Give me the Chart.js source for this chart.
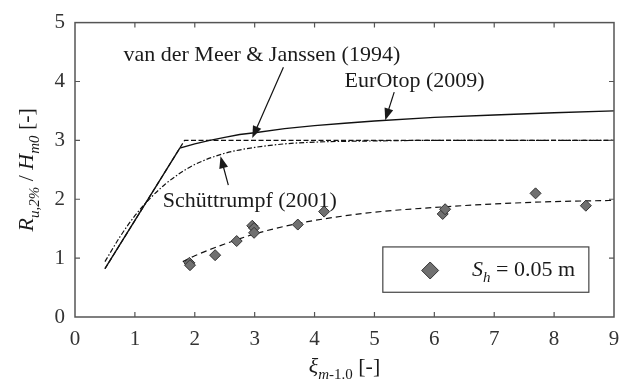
<!DOCTYPE html>
<html>
<head>
<meta charset="utf-8">
<script src="https://cdn.jsdelivr.net/npm/chart.js@4"></script>
<style>
  html, body { margin: 0; padding: 0; background: #fff; }
</style>
</head>
<body>
<canvas id="runupChart" width="631" height="385"></canvas>
<script>
// measured run-up, S_h = 0.05 m
const xiMeasured = [1.91, 1.92, 2.34, 2.70, 2.96, 2.99, 2.99, 3.72, 4.16, 6.14, 6.18, 7.69, 8.53];
const ruMeasured = [0.92, 0.88, 1.05, 1.29, 1.55, 1.51, 1.43, 1.57, 1.79, 1.75, 1.83, 2.10, 1.89];

// trend line through the measurements
const xiFit = [1.8, 2.0, 2.5, 3.0, 3.5, 4.0, 5.0, 6.0, 7.0, 8.0, 9.0];
const ruFit = [0.94, 1.04, 1.24, 1.41, 1.54, 1.64, 1.78, 1.86, 1.92, 1.96, 1.98];

// EurOtop (2009)
const xiEurOtop = [0.5, 1.75, 2.0, 2.25, 2.5, 2.75, 3.0, 3.5, 4.0, 4.5, 5.0, 6.0, 7.0, 8.0, 9.0];
const ruEurOtop = [0.82, 2.87, 2.94, 3.00, 3.05, 3.10, 3.13, 3.20, 3.25, 3.29, 3.33, 3.39, 3.43, 3.47, 3.50];

// van der Meer & Janssen (1994)
const xiVdM = [0.5, 1.83, 9.0];
const ruVdM = [0.82, 3.0, 3.0];

// Schüttrumpf (2001)
const xiSchutt = [0.5, 0.75, 1.0, 1.25, 1.5, 1.75, 2.0, 2.5, 3.0, 3.5, 4.0, 5.0, 6.0, 9.0];
const ruSchutt = [0.94, 1.36, 1.72, 2.01, 2.25, 2.44, 2.59, 2.78, 2.88, 2.94, 2.97, 2.99, 3.0, 3.0];

const xTicks = [0, 1, 2, 3, 4, 5, 6, 7, 8, 9];
const yTicks = [0, 1, 2, 3, 4, 5];

const SERIF = "'Liberation Serif', 'DejaVu Serif', serif";
const INK = '#1a1a1a';

const toPoints = (xs, ys) => xs.map((x, i) => ({ x: x, y: ys[i] }));

// draw a run of text pieces (italic / subscript) one after the other
function richText(ctx, parts, x, y, align) {
    const fontOf = p => (p.italic ? 'italic ' : '') + p.size + 'px ' + SERIF;
    let total = 0;
    parts.forEach(p => { ctx.font = fontOf(p); total += ctx.measureText(p.t).width; });
    let cx = align === 'center' ? x - total / 2 : x;
    ctx.textAlign = 'left';
    ctx.textBaseline = 'alphabetic';
    parts.forEach(p => {
        ctx.font = fontOf(p);
        ctx.fillText(p.t, cx, y + (p.dy || 0));
        cx += ctx.measureText(p.t).width;
    });
}

function arrow(ctx, x0, y0, x1, y1) {
    const ang = Math.atan2(y1 - y0, x1 - x0);
    const len = 12, half = 4.5;
    ctx.beginPath();
    ctx.moveTo(x0, y0);
    ctx.lineTo(x1 - Math.cos(ang) * len * 0.8, y1 - Math.sin(ang) * len * 0.8);
    ctx.stroke();
    ctx.beginPath();
    ctx.moveTo(x1, y1);
    ctx.lineTo(x1 - Math.cos(ang) * len - Math.sin(ang) * half, y1 - Math.sin(ang) * len + Math.cos(ang) * half);
    ctx.lineTo(x1 - Math.cos(ang) * len + Math.sin(ang) * half, y1 - Math.sin(ang) * len - Math.cos(ang) * half);
    ctx.closePath();
    ctx.fill();
}

const decor = {
    id: 'decor',
    afterDatasetsDraw(chart) {
        const { ctx, chartArea: a, scales: { x, y } } = chart;
        const px = v => x.getPixelForValue(v);
        const py = v => y.getPixelForValue(v);
        ctx.save();

        // frame with inward ticks on all sides
        ctx.strokeStyle = '#555';
        ctx.lineWidth = 1.5;
        ctx.strokeRect(a.left, a.top, a.right - a.left, a.bottom - a.top);
        ctx.lineWidth = 1.2;
        ctx.beginPath();
        xTicks.slice(1, -1).forEach(v => {
            ctx.moveTo(px(v), a.bottom); ctx.lineTo(px(v), a.bottom - 5);
            ctx.moveTo(px(v), a.top); ctx.lineTo(px(v), a.top + 5);
        });
        yTicks.slice(1, -1).forEach(v => {
            ctx.moveTo(a.left, py(v)); ctx.lineTo(a.left + 5, py(v));
            ctx.moveTo(a.right, py(v)); ctx.lineTo(a.right - 5, py(v));
        });
        ctx.stroke();

        // curve labels and arrows
        ctx.fillStyle = INK;
        ctx.strokeStyle = '#111';
        ctx.lineWidth = 1.2;
        richText(ctx, [{ t: 'van der Meer & Janssen (1994)', size: 22 }], px(3.12), py(4.35), 'center');
        richText(ctx, [{ t: 'EurOtop (2009)', size: 22 }], px(5.67), py(3.91), 'center');
        richText(ctx, [{ t: 'Schüttrumpf (2001)', size: 22 }], px(2.92), py(1.86), 'center');
        arrow(ctx, px(3.48), py(4.24), px(2.96), py(3.04));
        arrow(ctx, px(5.33), py(3.82), px(5.18), py(3.34));
        arrow(ctx, px(2.56), py(2.24), px(2.43), py(2.73));

        // legend box
        ctx.strokeStyle = '#444';
        ctx.lineWidth = 1.2;
        ctx.strokeRect(px(5.14), py(1.19), px(8.58) - px(5.14), py(0.42) - py(1.19));
        ctx.fillStyle = '#707070';
        ctx.strokeStyle = '#333';
        ctx.lineWidth = 1;
        Chart.helpers.drawPoint(ctx, { pointStyle: 'rectRot', radius: 8.5, borderWidth: 1 }, px(5.93), py(0.79));
        ctx.fillStyle = INK;
        richText(ctx, [
            { t: 'S', size: 22, italic: true },
            { t: 'h', size: 15, italic: true, dy: 6 },
            { t: ' = 0.05 m', size: 22 }
        ], px(6.63), py(0.70), 'left');

        // axis titles
        richText(ctx, [
            { t: 'ξ', size: 22, italic: true },
            { t: 'm', size: 15, italic: true, dy: 6 },
            { t: '-1.0', size: 15, dy: 6 },
            { t: ' [-]', size: 22 }
        ], (a.left + a.right) / 2, 373, 'center');

        ctx.translate(33, (a.top + a.bottom) / 2);
        ctx.rotate(-Math.PI / 2);
        richText(ctx, [
            { t: 'R', size: 22, italic: true },
            { t: 'u,2%', size: 15, italic: true, dy: 6 },
            { t: ' / ', size: 22 },
            { t: 'H', size: 22, italic: true },
            { t: 'm0', size: 15, italic: true, dy: 6 },
            { t: ' [-]', size: 22 }
        ], 0, 0, 'center');

        ctx.restore();
    }
};

const ctx = document.getElementById('runupChart').getContext('2d');

const chart = new Chart(ctx, {
    type: 'scatter',
    data: {
        datasets: [
            {
                label: 'S_h = 0.05 m',
                data: toPoints(xiMeasured, ruMeasured),
                pointStyle: 'rectRot',
                pointRadius: 5.5,
                backgroundColor: '#707070',
                borderColor: '#333',
                borderWidth: 1,
                order: 0
            },
            {
                label: 'trend',
                data: toPoints(xiFit, ruFit),
                showLine: true,
                pointRadius: 0,
                borderColor: '#111',
                borderWidth: 1.2,
                borderDash: [6, 4],
                cubicInterpolationMode: 'monotone',
                order: 1
            },
            {
                label: 'EurOtop (2009)',
                data: toPoints(xiEurOtop, ruEurOtop),
                showLine: true,
                pointRadius: 0,
                borderColor: '#111',
                borderWidth: 1.4,
                tension: 0,
                order: 2
            },
            {
                label: 'van der Meer & Janssen (1994)',
                data: toPoints(xiVdM, ruVdM),
                showLine: true,
                pointRadius: 0,
                borderColor: '#111',
                borderWidth: 1.2,
                borderDash: [5, 2.5],
                order: 3
            },
            {
                label: 'Schüttrumpf (2001)',
                data: toPoints(xiSchutt, ruSchutt),
                showLine: true,
                pointRadius: 0,
                borderColor: '#111',
                borderWidth: 1.2,
                borderDash: [5, 2, 1.5, 2],
                cubicInterpolationMode: 'monotone',
                order: 4
            }
        ]
    },
    options: {
        responsive: false,
        animation: false,
        devicePixelRatio: 1,
        layout: { padding: { top: 18, right: 17, left: 0, bottom: 0 } },
        plugins: {
            legend: { display: false },
            tooltip: { enabled: false }
        },
        scales: {
            x: {
                type: 'linear',
                min: 0,
                max: 9,
                afterFit: scale => { scale.height = 68; },
                afterBuildTicks: scale => { scale.ticks = xTicks.map(v => ({ value: v })); },
                grid: { display: false, drawTicks: false },
                border: { display: false },
                ticks: {
                    padding: 10,
                    color: '#333',
                    font: { family: SERIF, size: 21 }
                }
            },
            y: {
                type: 'linear',
                min: 0,
                max: 5,
                afterFit: scale => { scale.width = 75; },
                afterBuildTicks: scale => { scale.ticks = yTicks.map(v => ({ value: v })); },
                grid: { display: false, drawTicks: false },
                border: { display: false },
                ticks: {
                    padding: 10,
                    color: '#333',
                    font: { family: SERIF, size: 21 }
                }
            }
        }
    },
    plugins: [decor]
});
</script>
</body>
</html>
